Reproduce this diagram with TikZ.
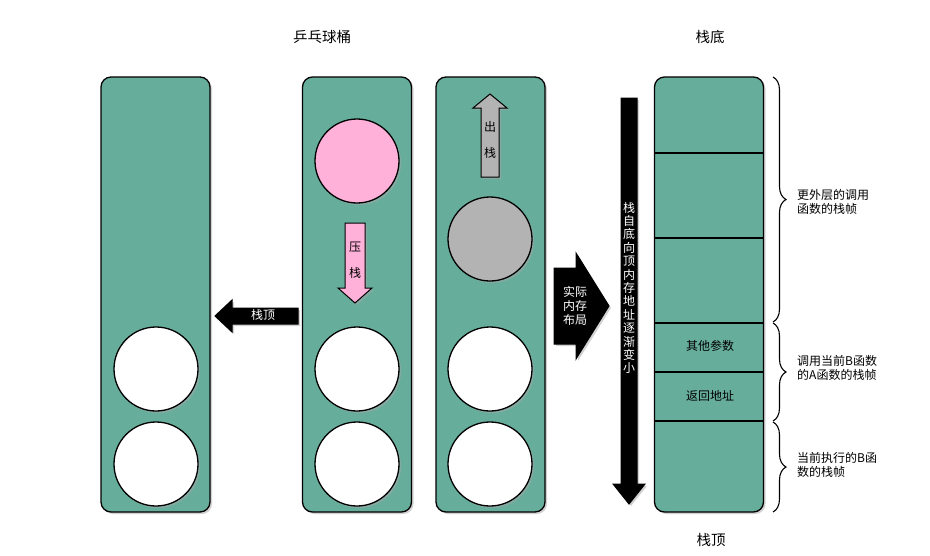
\documentclass[tikz,border=0pt]{standalone}
\usepackage{fontspec}
\setmainfont{Noto Sans CJK SC}
\usetikzlibrary{shadows,decorations.pathreplacing}

\definecolor{tubegreen}{RGB}{103,173,156}
\definecolor{ballpink}{RGB}{255,177,218}
\definecolor{ballgray}{RGB}{179,179,179}

\tikzset{
  dropsh/.style={drop shadow={shadow xshift=2pt,shadow yshift=-2pt,fill=black!35}},
  tube/.style={draw, line width=1.3pt, fill=tubegreen, rounded corners=10pt,
               minimum width=109pt, minimum height=435pt, inner sep=0pt, dropsh},
  ball/.style={circle, draw, line width=1.3pt, fill=white, minimum size=84pt,
               inner sep=0pt, dropsh},
  lbl/.style={font=\fontsize{12}{14}\selectfont, inner sep=0pt},
  ttl/.style={font=\fontsize{14.5}{16}\selectfont, inner sep=0pt},
  brace/.style={decorate, decoration={brace,amplitude=13pt}, line width=1.1pt},
  arrowbox/.style={line width=1pt, draw=black, dropsh}
}

\begin{document}
\begin{tikzpicture}[x=1pt,y=-1pt]
\useasboundingbox (0,0) rectangle (930,555);

% Titles
\node[ttl] (title) at (322,37) {乒乓球桶};
\node[ttl] (bottomname) at (710,37) {栈底};
\node[ttl] (topname) at (711,540) {栈顶};

% Ping-pong tubes
\node[tube] (tube1) at (155.5,294.5) {};
\node[tube] (tube2) at (357,294.5) {};
\node[tube] (tube3) at (490.5,294.5) {};

% Balls
\foreach \x/\n in {156/a,357/b,490/c} {
  \node[ball] (low\n) at (\x,369) {};
  \node[ball] (bot\n) at (\x,464) {};
}
\node[ball, fill=ballpink] (pushball) at (357,161) {};
\node[ball, fill=ballgray] (popball) at (490,239) {};

% Top of stack pointer
\filldraw[arrowbox, fill=black] (215,316) -- (232,300) -- (232,308) -- (298,308)
  -- (298,324) -- (232,324) -- (232,332) -- cycle;
\node[lbl, text=white] (toplbl) at (263,315) {栈顶};

% Push arrow
\filldraw[arrowbox, fill=ballpink] (345,223) -- (365,223) -- (365,288) -- (372,288)
  -- (355,303) -- (338,288) -- (345,288) -- cycle;
\node[lbl, align=center, font=\fontsize{12}{26}\selectfont] (pushlbl) at (355,260) {压\\栈};

% Pop arrow
\filldraw[arrowbox, fill=ballgray] (481,177) -- (499,177) -- (499,108) -- (507,108)
  -- (490,94) -- (473,108) -- (481,108) -- cycle;
\node[lbl, align=center, font=\fontsize{12}{26}\selectfont] (poplbl) at (490,140) {出\\栈};

% Real memory layout arrow
\filldraw[arrowbox, fill=black] (554,268) -- (576,268) -- (576,253) -- (609,306)
  -- (576,359) -- (576,344) -- (554,344) -- cycle;
\node[lbl, text=white, align=center] (memlbl) at (575,306) {实际\\内存\\布局};

% Address direction arrow
\filldraw[arrowbox, fill=black] (621,98) -- (637,98) -- (637,484) -- (645,484)
  -- (629,504) -- (613,484) -- (621,484) -- cycle;
\node[lbl, text=white, align=center, font=\fontsize{12}{13.4}\selectfont] (dirlbl) at (629,288)
  {栈\\自\\底\\向\\顶\\内\\存\\地\\址\\逐\\渐\\变\\小};

% Stack memory
\node[tube] (stack) at (709,294.5) {};
\foreach \y in {153,238,323,372,421}
  \draw[line width=1.1pt] (654.5,\y) -- (763.5,\y);
\node[lbl] (other) at (710,346) {其他参数};
\node[lbl] (ret) at (710,396) {返回地址};

% Frames
\draw[brace] (773,77) -- (773,322);
\draw[brace] (773,323) -- (773,421);
\draw[brace] (773,422) -- (773,512);
\node[lbl, anchor=west, align=left] (outerframe) at (797,202) {更外层的调用\\函数的栈帧};
\node[lbl, anchor=west, align=left] (aframe) at (797,368) {调用当前B函数\\的A函数的栈帧};
\node[lbl, anchor=west, align=left] (bframe) at (797,465) {当前执行的B函\\数的栈帧};

\end{tikzpicture}
\end{document}
